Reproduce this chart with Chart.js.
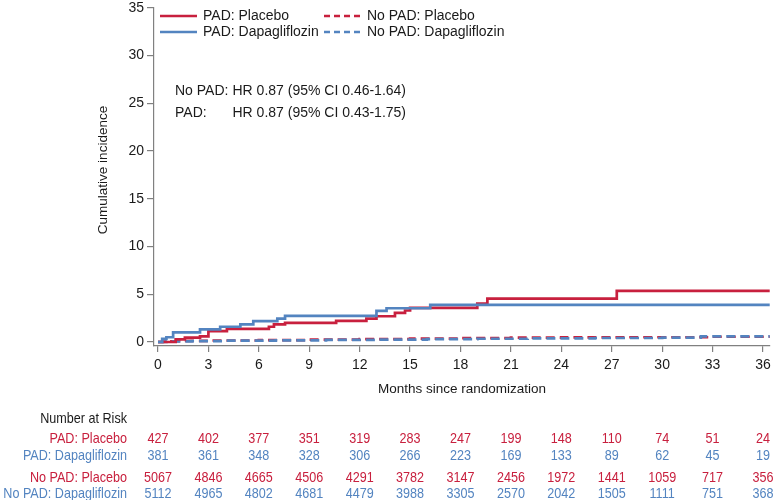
<!DOCTYPE html>
<html>
<head>
<meta charset="utf-8">
<script src="https://cdn.jsdelivr.net/npm/chart.js@4.4.1/dist/chart.umd.min.js"></script>
<style>
html, body { margin: 0; padding: 0; background: #fff; }
</style>
</head>
<body>
<canvas id="kmChart" width="777" height="500"></canvas>
<script>
// tick values
const xTicks = [0, 3, 6, 9, 12, 15, 18, 21, 24, 27, 30, 33, 36];
const yTicks = [0, 5, 10, 15, 20, 25, 30, 35];

// cumulative incidence curves (months, %)
const padPlaceboT = [0, 1.05, 1.6, 2.5, 3.0, 4.1, 6.6, 6.9, 7.56, 10.6, 12.4, 13.0, 14.1, 14.7, 15.0, 19.0, 19.6, 27.3, 36.4];
const padPlaceboY = [0, 0.28, 0.45, 0.6, 1.15, 1.38, 1.6, 1.84, 2.0, 2.22, 2.46, 2.7, 3.05, 3.3, 3.57, 4.03, 4.55, 5.35, 5.35];
const padDapaT = [0, 0.25, 0.5, 0.9, 2.5, 3.7, 4.9, 5.67, 7.1, 7.56, 13.0, 13.6, 16.2, 36.4];
const padDapaY = [0, 0.32, 0.5, 1.0, 1.32, 1.6, 1.84, 2.19, 2.46, 2.74, 3.26, 3.54, 3.9, 3.9];
const noPadPlaceboT = [0, 0.3, 0.8, 1.5, 3, 6, 9, 12, 15, 18, 21, 24, 28, 33, 36.4];
const noPadPlaceboY = [0, 0.04, 0.08, 0.12, 0.16, 0.2, 0.25, 0.3, 0.35, 0.4, 0.45, 0.48, 0.5, 0.55, 0.55];
const noPadDapaT = [0, 0.5, 1, 2, 4, 7, 10, 13, 16, 19, 22, 26, 30, 32.3, 36.4];
const noPadDapaY = [0, 0.04, 0.07, 0.1, 0.14, 0.18, 0.22, 0.26, 0.3, 0.34, 0.38, 0.42, 0.46, 0.6, 0.6];

// number at risk
const riskMonths = [0, 3, 6, 9, 12, 15, 18, 21, 24, 27, 30, 33, 36];
const riskPadPlacebo = [427, 402, 377, 351, 319, 283, 247, 199, 148, 110, 74, 51, 24];
const riskPadDapa = [381, 361, 348, 328, 306, 266, 223, 169, 133, 89, 62, 45, 19];
const riskNoPadPlacebo = [5067, 4846, 4665, 4506, 4291, 3782, 3147, 2456, 1972, 1441, 1059, 717, 356];
const riskNoPadDapa = [5112, 4965, 4802, 4681, 4479, 3988, 3305, 2570, 2042, 1505, 1111, 751, 368];

const hrLines = [
  ['No PAD:', 'HR 0.87 (95% CI 0.46-1.64)'],
  ['PAD:', 'HR 0.87 (95% CI 0.43-1.75)']
];

const RED = '#C8203E';
const BLUE = '#5384C0';
const INK = '#1a1a1a';
const AXIS = '#808080';
const FONT = '"Liberation Sans", Arial, sans-serif';

const pts = (t, y) => t.map((v, i) => ({ x: v, y: y[i] }));

const extras = {
  id: 'extras',
  afterDraw(chart) {
    const ctx = chart.ctx;
    const xs = chart.scales.x;
    const area = chart.chartArea;
    ctx.save();

    // legend, two columns
    const legend = [
      { ds: 1, x: 160, y: 16 },
      { ds: 0, x: 160, y: 32 },
      { ds: 3, x: 324, y: 16 },
      { ds: 2, x: 324, y: 32 }
    ];
    ctx.font = '14px ' + FONT;
    ctx.textBaseline = 'middle';
    legend.forEach(it => {
      const d = chart.data.datasets[it.ds];
      ctx.strokeStyle = d.borderColor;
      ctx.lineWidth = 2.5;
      ctx.setLineDash(d.borderDash && d.borderDash.length ? [6, 4] : []);
      ctx.beginPath();
      ctx.moveTo(it.x, it.y);
      ctx.lineTo(it.x + 37, it.y);
      ctx.stroke();
      ctx.fillStyle = INK;
      ctx.textAlign = 'left';
      ctx.fillText(d.label, it.x + 43, it.y);
    });
    ctx.setLineDash([]);

    // hazard ratios
    hrLines.forEach((l, i) => {
      const y = 91 + i * 22;
      ctx.fillText(l[0], 175, y);
      ctx.fillText(l[1], 232.5, y);
    });

    // axis titles
    ctx.font = '13.5px ' + FONT;
    ctx.textAlign = 'center';
    ctx.fillText('Months since randomization', (area.left + area.right) / 2, 389);
    ctx.save();
    ctx.translate(103, 170);
    ctx.rotate(-Math.PI / 2);
    ctx.fillText('Cumulative incidence', 0, 0);
    ctx.restore();

    // number at risk table (condensed text)
    const cond = (txt, x, y, align) => {
      ctx.save();
      ctx.translate(x, y);
      ctx.scale(0.84, 1);
      ctx.textAlign = align;
      ctx.fillText(txt, 0, 0);
      ctx.restore();
    };
    ctx.font = '15px ' + FONT;
    ctx.fillStyle = INK;
    cond('Number at Risk', 127, 419, 'right');
    const rows = [
      ['PAD: Placebo', riskPadPlacebo, RED, 439],
      ['PAD: Dapagliflozin', riskPadDapa, BLUE, 456],
      ['No PAD: Placebo', riskNoPadPlacebo, RED, 478],
      ['No PAD: Dapagliflozin', riskNoPadDapa, BLUE, 494]
    ];
    rows.forEach(r => {
      ctx.fillStyle = r[2];
      cond(r[0], 127, r[3], 'right');
      r[1].forEach((n, i) => cond(String(n), xs.getPixelForValue(riskMonths[i]), r[3], 'center'));
    });
    ctx.restore();
  }
};

new Chart(document.getElementById('kmChart'), {
  type: 'line',
  data: {
    datasets: [
      { label: 'PAD: Dapagliflozin', data: pts(padDapaT, padDapaY), borderColor: BLUE, borderWidth: 2.7 },
      { label: 'PAD: Placebo', data: pts(padPlaceboT, padPlaceboY), borderColor: RED, borderWidth: 2.7 },
      { label: 'No PAD: Dapagliflozin', data: pts(noPadDapaT, noPadDapaY), borderColor: BLUE, borderWidth: 2.7, borderDash: [9, 5] },
      { label: 'No PAD: Placebo', data: pts(noPadPlaceboT, noPadPlaceboY), borderColor: RED, borderWidth: 2.7, borderDash: [9, 5] }
    ]
  },
  options: {
    responsive: false,
    animation: false,
    layout: { padding: { top: 6, right: 7, left: 0, bottom: 0 } },
    elements: {
      point: { radius: 0 },
      line: { stepped: true, tension: 0, fill: false }
    },
    plugins: { legend: { display: false }, tooltip: { enabled: false } },
    scales: {
      x: {
        type: 'linear',
        min: -0.238,
        max: 36.417,
        afterBuildTicks: s => { s.ticks = xTicks.map(v => ({ value: v })); },
        afterFit: s => { s.height = 154; },
        ticks: { color: INK, font: { family: FONT, size: 14 }, padding: 5, maxRotation: 0 },
        grid: { drawOnChartArea: false, drawTicks: true, tickLength: 6, color: AXIS, lineWidth: 1.2 },
        border: { color: AXIS, width: 1.2 }
      },
      y: {
        min: -0.417,
        max: 35,
        afterBuildTicks: s => { s.ticks = yTicks.map(v => ({ value: v })); },
        afterFit: s => { s.width = 154; },
        ticks: { color: INK, font: { family: FONT, size: 14, lineHeight: 0.7 }, padding: 3 },
        grid: { drawOnChartArea: false, drawTicks: true, tickLength: 7, color: AXIS, lineWidth: 1.2 },
        border: { color: AXIS, width: 1.2 }
      }
    }
  },
  plugins: [extras]
});
</script>
</body>
</html>
